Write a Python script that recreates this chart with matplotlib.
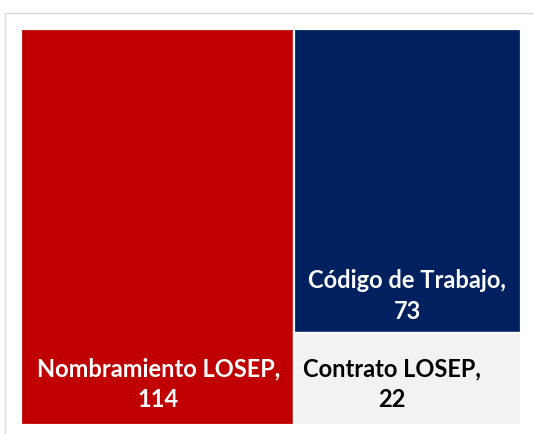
import matplotlib
matplotlib.use("Agg")
import matplotlib.pyplot as plt
from matplotlib.patches import Rectangle

labels = ["Nombramiento LOSEP", "Código de Trabajo", "Contrato LOSEP"]
values = [114, 73, 22]
colors = ["#C00000", "#002060", "#F2F2F2"]
text_colors = ["white", "white", "black"]

plt.rcParams['font.family'] = ['Lato', 'DejaVu Sans']

fig = plt.figure(figsize=(5.34, 4.34), dpi=100)
# light frame round the chart area
fig.add_artist(Rectangle((5.5 / 534, -0.1), 1.2, (434 - 13.5) / 434 + 0.1,
                         transform=fig.transFigure, fill=False,
                         edgecolor="#D9D9D9", linewidth=1))
ax = fig.add_axes([21 / 534, 9 / 434, 500 / 534, 396 / 434])

total = sum(values)
right = values[1] + values[2]
# simple slice layout: first cell takes a full column, the rest stack on the right
rects = [
    (0, 0, values[0], 1),
    (values[0], values[2] / right, right, values[1] / right),
    (values[0], 0, right, values[2] / right),
]
pad = [0.035, 0.025, 0.035]
xshift = [1, 0, -15]
for (x, y, w, h), lab, v, c, tc, p, dx in zip(rects, labels, values, colors, text_colors, pad, xshift):
    ax.add_patch(Rectangle((x, y), w, h, facecolor=c, edgecolor="white", linewidth=1.6))
    ax.text(x + w / 2 + dx * total / 500, y + p, f"{lab},\n{v}", ha="center", va="bottom",
            color=tc, fontsize=17, fontweight="bold", linespacing=1.42)

ax.set_xlim(0, total)
ax.set_ylim(0, 1)
ax.axis("off")
fig.savefig("out.png", dpi=100)
